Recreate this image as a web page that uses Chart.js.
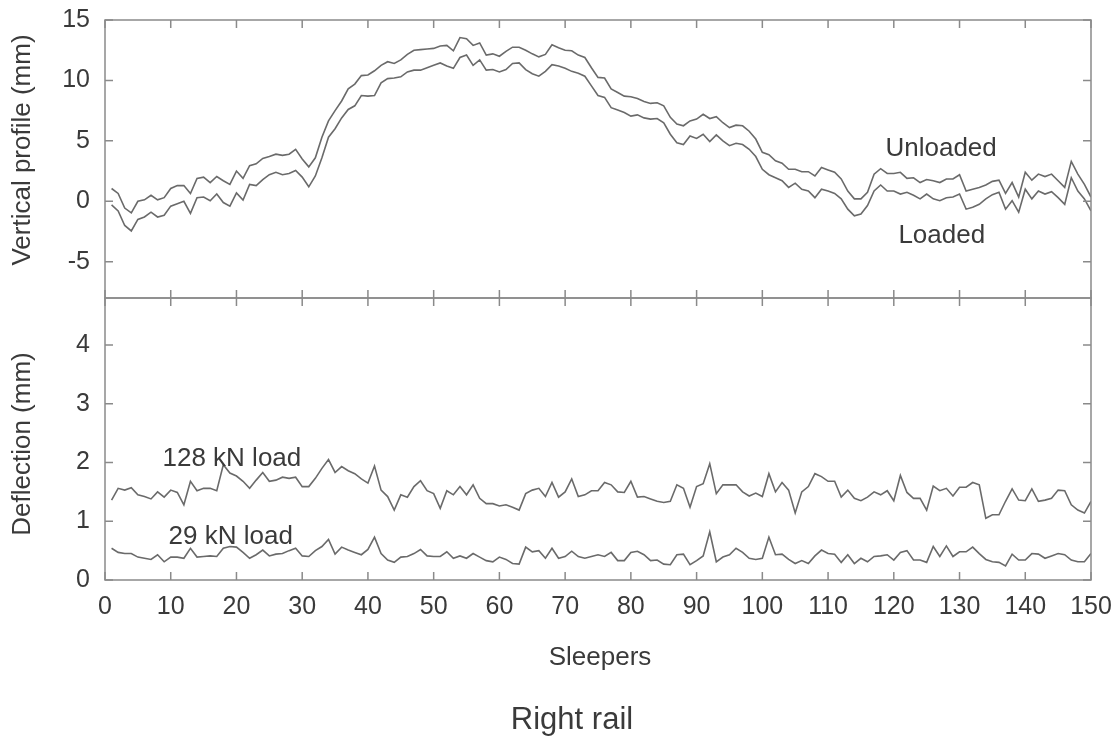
<!DOCTYPE html>
<html>
<head>
<meta charset="utf-8">
<script src="https://cdn.jsdelivr.net/npm/chart.js@4/dist/chart.umd.min.js"></script>
<style>
  html, body { margin: 0; padding: 0; background: #fff; }
  .panel { position: absolute; left: 0; top: 0; width: 1119px; height: 744px; }
</style>
</head>
<body>
<div class="panel"><canvas id="profile" width="1119" height="744"></canvas></div>
<div class="panel"><canvas id="deflection" width="1119" height="744"></canvas></div>
<script>
// sleeper numbers along the right rail
const sleepers = Array.from({ length: 150 }, (_, i) => i + 1);

// vertical profile (mm)
const unloaded = [
  1.06, 0.65, -0.56, -0.95, 0, 0.12, 0.5, 0.12, 0.3, 1.06,
  1.3, 1.3, 0.65, 1.9, 2.0, 1.55, 2.05, 1.7, 1.4, 2.5,
  1.9, 2.95, 3.1, 3.55, 3.7, 3.9, 3.8, 3.9, 4.3, 3.5,
  2.85, 3.6, 5.3, 6.65, 7.5, 8.3, 9.3, 9.7, 10.4, 10.45,
  10.8, 11.25, 11.55, 11.4, 11.7, 12.15, 12.5, 12.55, 12.6, 12.65,
  12.85, 12.9, 12.45, 13.55, 13.45, 12.9, 13.1, 12.1, 12.2, 12.0,
  12.4, 12.75, 12.75, 12.5, 12.2, 11.95, 12.15, 12.95, 12.7, 12.5,
  12.45, 12.1, 11.9, 11.05, 10.25, 10.2, 9.3, 9.0, 8.7, 8.65,
  8.5, 8.25, 8.1, 8.15, 7.9, 6.95, 6.4, 6.25, 6.65, 6.8,
  7.2, 6.85, 7.0, 6.5, 6.1, 6.3, 6.25, 5.8, 5.15, 4.05,
  3.85, 3.35, 3.15, 2.65, 2.65, 2.45, 2.45, 2.1, 2.8, 2.6,
  2.4, 1.85, 0.85, 0.2, 0.2, 0.75, 2.25, 2.7, 2.3, 2.3,
  2.4, 1.9, 1.95, 1.55, 1.8, 1.7, 1.55, 1.85, 1.85, 2.2,
  0.85, 1.0, 1.15, 1.35, 1.65, 1.75, 0.65, 1.55, 0.35, 2.4,
  1.75, 2.25, 2.05, 2.25, 1.7, 1.15, 3.3, 2.25, 1.4, 0.35
];
const loaded = [
  -0.3, -0.8, -2.0, -2.45, -1.5, -1.3, -0.9, -1.3, -1.15, -0.4,
  -0.2, 0, -1.0, 0.3, 0.35, 0.05, 0.6, -0.1, -0.4, 0.7,
  0.1, 1.4, 1.3, 1.8, 2.2, 2.4, 2.2, 2.3, 2.55, 2.0,
  1.2, 2.1, 3.6, 5.3, 6.0, 6.9, 7.6, 7.9, 8.75, 8.7,
  8.75, 9.8, 10.15, 10.2, 10.3, 10.7, 10.85, 10.85, 11.05, 11.25,
  11.45, 11.2, 11.0, 11.9, 12.1, 11.25, 11.7, 10.85, 10.9, 10.7,
  10.9, 11.4, 11.45, 10.9, 10.55, 10.35, 10.75, 11.3, 11.2, 11.0,
  10.75, 10.6, 10.35, 9.55, 8.75, 8.6, 7.75, 7.55, 7.35, 7.05,
  7.15, 6.9, 6.8, 6.85, 6.5, 5.55, 4.85, 4.7, 5.4, 5.2,
  5.55, 4.95, 5.5, 5.0, 4.6, 4.8, 4.7, 4.3, 3.7, 2.65,
  2.2, 1.95, 1.7, 1.15, 1.5, 1.0, 0.85, 0.3, 1.0, 0.85,
  0.65, 0.2, -0.65, -1.2, -1.05, -0.35, 0.85, 1.35, 0.85, 0.85,
  0.6, 0.75, 0.5, 0.2, 0.6, 0.2, 0.05, 0.3, 0.35, 0.6,
  -0.65, -0.5, -0.25, 0.2, 0.55, 0.75, -0.65, 0.05, -0.9, 1.0,
  0.2, 0.85, 0.6, 0.8, 0.3, -0.25, 1.95, 0.85, 0.2, -0.8
];

// deflection (mm)
const load128 = [
  1.36, 1.56, 1.53, 1.57, 1.45, 1.42, 1.38, 1.5, 1.41, 1.53,
  1.49, 1.28, 1.68, 1.52, 1.56, 1.56, 1.52, 1.96, 1.82, 1.77,
  1.68, 1.56, 1.7, 1.83, 1.68, 1.7, 1.75, 1.73, 1.75, 1.59,
  1.59, 1.73, 1.9, 2.05, 1.83, 1.93, 1.86, 1.81, 1.72, 1.65,
  1.94, 1.53, 1.42, 1.19, 1.45, 1.41, 1.59, 1.69, 1.52, 1.47,
  1.22, 1.52, 1.45, 1.59, 1.45, 1.62, 1.39, 1.3, 1.3, 1.26,
  1.28, 1.24, 1.19, 1.47, 1.53, 1.56, 1.42, 1.66, 1.41, 1.5,
  1.72, 1.42, 1.45, 1.52, 1.52, 1.66, 1.62, 1.5, 1.49, 1.68,
  1.41, 1.42, 1.38, 1.34, 1.32, 1.34, 1.62, 1.56, 1.24, 1.59,
  1.64, 1.98, 1.47, 1.62, 1.62, 1.62, 1.5, 1.43, 1.48, 1.42,
  1.81, 1.5, 1.66, 1.53, 1.14, 1.5, 1.59, 1.81, 1.76, 1.68,
  1.68, 1.41, 1.53, 1.39, 1.35, 1.41, 1.5, 1.45, 1.52, 1.35,
  1.78, 1.49, 1.39, 1.39, 1.19, 1.6, 1.52, 1.56, 1.43, 1.58,
  1.58, 1.66, 1.62, 1.05, 1.11, 1.11, 1.34, 1.55, 1.36, 1.35,
  1.55, 1.34, 1.36, 1.39, 1.53, 1.52, 1.28, 1.19, 1.14, 1.34
];
const load29 = [
  0.54, 0.47, 0.45, 0.45, 0.39, 0.37, 0.35, 0.43, 0.31, 0.39,
  0.39, 0.37, 0.54, 0.39, 0.4, 0.41, 0.4, 0.54, 0.57, 0.56,
  0.47, 0.37, 0.43, 0.51, 0.41, 0.44, 0.45, 0.5, 0.54, 0.41,
  0.4, 0.5, 0.57, 0.69, 0.44, 0.56, 0.51, 0.47, 0.43, 0.52,
  0.73, 0.45, 0.34, 0.3, 0.39, 0.4, 0.45, 0.52, 0.41, 0.4,
  0.4, 0.48, 0.37, 0.41, 0.37, 0.45, 0.39, 0.33, 0.31, 0.39,
  0.35, 0.28, 0.27, 0.56, 0.48, 0.5, 0.37, 0.54, 0.37, 0.4,
  0.49, 0.4, 0.37, 0.4, 0.43, 0.4, 0.47, 0.33, 0.33, 0.47,
  0.49, 0.43, 0.33, 0.34, 0.27, 0.26, 0.43, 0.44, 0.26, 0.33,
  0.41, 0.82, 0.31, 0.39, 0.43, 0.54, 0.47, 0.37, 0.35, 0.37,
  0.73, 0.43, 0.44, 0.35, 0.28, 0.33, 0.28, 0.41, 0.51, 0.45,
  0.44, 0.3, 0.43, 0.28, 0.37, 0.31, 0.4, 0.41, 0.43, 0.34,
  0.47, 0.5, 0.34, 0.34, 0.3, 0.57, 0.4, 0.58, 0.4, 0.48,
  0.48, 0.56, 0.45, 0.35, 0.31, 0.3, 0.24, 0.44, 0.34, 0.34,
  0.45, 0.44, 0.37, 0.41, 0.45, 0.43, 0.34, 0.31, 0.31, 0.45
];

const profileTicks = [-5, 0, 5, 10, 15];
const deflectionTicks = [0, 1, 2, 3, 4];

const FONT = 'Liberation Sans, Arial, sans-serif';
const INK = '#3a3a3a';
const LINE = '#6a6a6a';
const FRAME = '#8a8a8a';

const toPoints = (ys) => ys.map((y, i) => ({ x: sleepers[i], y }));

// frame round the plot area with short ticks pointing inwards
const framePlugin = {
  id: 'frame',
  afterDatasetsDraw(chart) {
    const { ctx, chartArea: a, scales } = chart;
    const len = 8;
    ctx.save();
    ctx.strokeStyle = FRAME;
    ctx.lineWidth = 1.5;
    ctx.strokeRect(a.left, a.top, a.right - a.left, a.bottom - a.top);
    ctx.beginPath();
    scales.x.ticks.forEach(t => {
      const px = scales.x.getPixelForValue(t.value);
      ctx.moveTo(px, a.top); ctx.lineTo(px, a.top + len);
      ctx.moveTo(px, a.bottom); ctx.lineTo(px, a.bottom - len);
    });
    scales.y.ticks.forEach(t => {
      const py = scales.y.getPixelForValue(t.value);
      ctx.moveTo(a.left, py); ctx.lineTo(a.left + len, py);
      ctx.moveTo(a.right, py); ctx.lineTo(a.right - len, py);
    });
    ctx.stroke();
    ctx.restore();
  }
};

// free text: axis titles and the curve names
const notesPlugin = {
  id: 'notes',
  afterDraw(chart, args, opts) {
    const { ctx, scales } = chart;
    ctx.save();
    ctx.fillStyle = INK;
    (opts.items || []).forEach(n => {
      ctx.font = (n.size || 26) + 'px ' + FONT;
      ctx.textAlign = n.align || 'center';
      ctx.textBaseline = 'middle';
      let x = n.px, y = n.py;
      if (n.x !== undefined) x = scales.x.getPixelForValue(n.x);
      if (n.y !== undefined) y = scales.y.getPixelForValue(n.y);
      ctx.save();
      ctx.translate(x, y);
      if (n.rotate) ctx.rotate(n.rotate);
      ctx.fillText(n.text, 0, 0);
      ctx.restore();
    });
    ctx.restore();
  }
};

const lineStyle = { borderColor: LINE, borderWidth: 1.6, pointRadius: 0, tension: 0, fill: false };

function yAxis(min, max, step, keep) {
  return {
    min, max,
    afterFit(s) { s.width = 105; s.paddingTop = 0; s.paddingBottom = 0; },
    afterBuildTicks(s) { s.ticks = s.ticks.filter(t => keep.includes(t.value)); },
    ticks: { stepSize: step, padding: 15, color: INK, font: { family: FONT, size: 25 } },
    grid: { display: false, drawTicks: false },
    border: { display: false }
  };
}

function xAxis(show) {
  return {
    type: 'linear', min: 0, max: 150,
    display: show,
    afterFit(s) {
      if (show) s.height = 164;
      // keep both panels the same width; the end labels may hang over the margin
      s.paddingLeft = 0;
      s.paddingRight = 0;
    },
    ticks: { stepSize: 10, padding: 12, color: INK, font: { family: FONT, size: 25 }, maxRotation: 0 },
    grid: { display: false, drawTicks: false },
    border: { display: false }
  };
}

new Chart(document.getElementById('profile'), {
  type: 'line',
  data: {
    datasets: [
      { label: 'Unloaded', data: toPoints(unloaded), ...lineStyle },
      { label: 'Loaded', data: toPoints(loaded), ...lineStyle }
    ]
  },
  options: {
    responsive: false,
    animation: false,
    layout: { padding: { left: 0, top: 20, right: 28, bottom: 446 } },
    scales: { x: xAxis(false), y: yAxis(-8, 15, 5, profileTicks) },
    plugins: {
      legend: { display: false },
      tooltip: { enabled: false },
      notes: {
        items: [
          { text: 'Unloaded', x: 127.2, y: 4.34 },
          { text: 'Loaded', x: 127.3, y: -2.85 },
          { text: 'Vertical profile (mm)', px: 23, py: 150, rotate: -Math.PI / 2 }
        ]
      }
    }
  },
  plugins: [framePlugin, notesPlugin]
});

new Chart(document.getElementById('deflection'), {
  type: 'line',
  data: {
    datasets: [
      { label: '128 kN load', data: toPoints(load128), ...lineStyle },
      { label: '29 kN load', data: toPoints(load29), ...lineStyle }
    ]
  },
  options: {
    responsive: false,
    animation: false,
    layout: { padding: { left: 0, top: 298, right: 28, bottom: 0 } },
    scales: { x: xAxis(true), y: yAxis(0, 4.8, 1, deflectionTicks) },
    plugins: {
      legend: { display: false },
      tooltip: { enabled: false },
      notes: {
        items: [
          { text: '128 kN load', x: 8.75, y: 2.06, align: 'left' },
          { text: '29 kN load', x: 9.67, y: 0.73, align: 'left' },
          { text: 'Deflection (mm)', px: 23, py: 444, rotate: -Math.PI / 2 },
          { text: 'Sleepers', px: 600, py: 658 },
          { text: 'Right rail', px: 572, py: 720, size: 31 }
        ]
      }
    }
  },
  plugins: [framePlugin, notesPlugin]
});
</script>
</body>
</html>
